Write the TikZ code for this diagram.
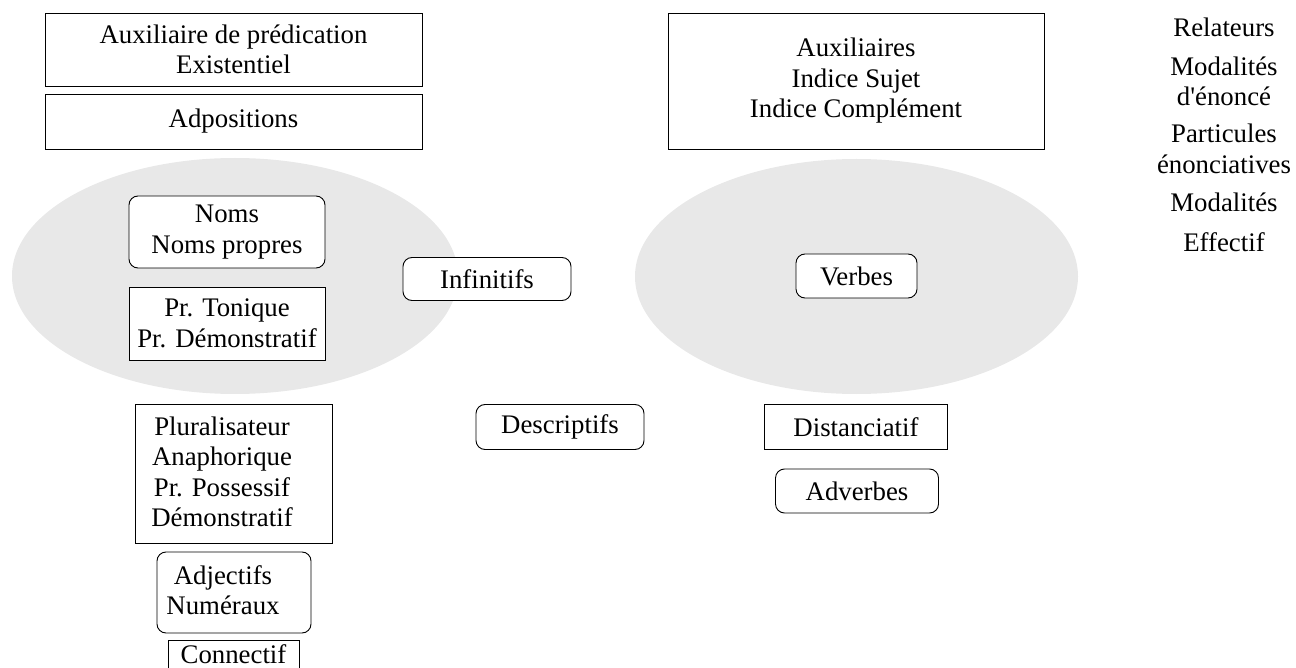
\documentclass[tikz,border=0pt]{standalone}
\usepackage{fontspec}
\setmainfont{Liberation Serif}
\usetikzlibrary{shapes.geometric}
\definecolor{ellgray}{HTML}{E8E8E8}
\tikzset{
  base/.style={font=\fontsize{26.8}{30.5}\selectfont, inner sep=0pt, align=center},
  sqbox/.style={base, draw=black, line width=0.9pt},
  rndbox/.style={sqbox, rounded corners=9pt, fill=white},
  blob/.style={ellipse, fill=ellgray, draw=none, inner sep=0pt},
  plain/.style={base},
}
\begin{document}
\begin{tikzpicture}[x=1pt,y=-1pt]
\useasboundingbox (0,0) rectangle (1296,668);
\clip (0,0) rectangle (1296,668);
% ellipses
\node[blob, minimum width=446, minimum height=236] (ellL) at (235,276) {};
\node[blob, minimum width=443, minimum height=235] (ellR) at (856.5,276.5) {};
% top boxes
\node[sqbox, minimum width=377, minimum height=73] (aux1) at (233.5,49.5) {Auxiliaire de prédication\\Existentiel};
\node[sqbox, minimum width=377, minimum height=55] (adpos) at (233.5,121.5) {Adpositions};
\node[sqbox, minimum width=376, minimum height=136] (aux2) at (856,81) {Auxiliaires\\Indice Sujet\\Indice Complément};
% inside left ellipse
\node[rndbox, minimum width=196, minimum height=72] (noms) at (227,232) {Noms\\Noms propres};
\node[sqbox, fill=white, minimum width=196, minimum height=73] (pron) at (227,323.5) {Pr. Tonique\\Pr. Démonstratif};
% middle
\node[rndbox, minimum width=168, minimum height=43] (infin) at (487,279) {Infinitifs};
\node[rndbox, minimum width=121, minimum height=44] (verbes) at (856.5,276) {Verbes};
\node[rndbox, minimum width=168, minimum height=45] (descr) at (560,427) {Descriptifs};
\node[sqbox, minimum width=183, minimum height=45] (dist) at (856,427) {Distanciatif};
\node[rndbox, minimum width=163, minimum height=44] (adverb) at (857,491) {Adverbes};
% bottom-left column
\node[sqbox, minimum width=197, minimum height=139] (plur) at (233.5,473.5) {};
\node[plain] (plurtxt) at (222,472) {Pluralisateur\\Anaphorique\\Pr. Possessif\\Démonstratif};
\node[rndbox, minimum width=154, minimum height=81] (adj) at (234,592.5) {};
\node[plain] (adjtxt) at (223,590) {Adjectifs\\Numéraux};
\node[sqbox, minimum width=131, minimum height=29] (conn) at (233.5,654.5) {Connectif};
% right column
\node[plain] (rel) at (1224,27) {Relateurs};
\node[plain] (modenon) at (1224,81.5) {Modalités\\d\textquotesingle énoncé};
\node[plain] (partic) at (1224,149) {Particules\\énonciatives};
\node[plain] (modal) at (1224,202) {Modalités};
\node[plain] (effect) at (1224,242) {Effectif};
\end{tikzpicture}
\end{document}
